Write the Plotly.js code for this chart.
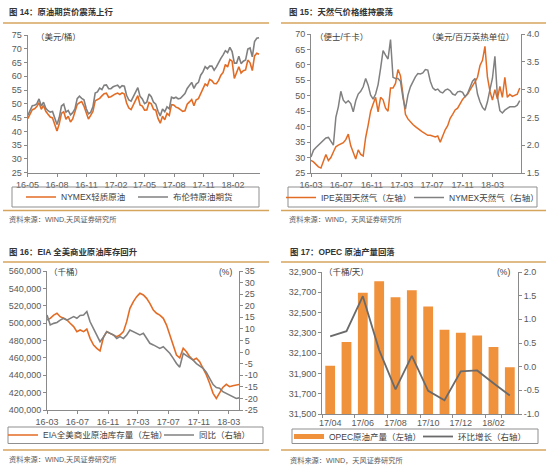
<!DOCTYPE html>
<html><head><meta charset="utf-8">
<script src="https://cdn.plot.ly/plotly-3.0.1.min.js"></script>
<style>html,body{margin:0;padding:0;background:#fff;}#chart{width:550px;height:469px;}</style>
</head><body><div id="chart"></div>
<script>
// ---------- Panel 1: crude futures (weekly) ----------
const oilStart = '2016-05-02';
const wtiPrice = [
 44.6,46.2,47.9,48.2,49.0, 50.4,48.0,49.4,47.3, 46.2,45.2,44.9,42.8, 40.1,42.8,46.6,47.1,44.4,
 45.5,43.4,44.5,46.8, 49.8,50.4,50.8,49.2,46.7, 44.5,45.8,47.2,51.1, 51.5,52.0,52.9,53.7,
 53.9,52.4,52.6,53.2,53.6, 53.9,53.4,54.0,53.6, 50.3,48.5,47.9,49.5, 51.5,53.0,49.6,49.2,
 47.7,47.8,50.5,50.0,48.0, 47.7,44.7,43.0,45.5, 44.2,46.5,45.8,49.7,49.6, 48.8,48.5,47.9,47.3,
 47.5,49.9,50.7,51.6, 49.3,51.5,51.9,53.9,55.6, 57.2,56.6,58.9,58.4, 57.4,57.3,58.5,60.4,
 61.4,64.3,63.4,66.1,65.5, 59.2,61.7,63.5,61.2, 62.0,62.3,65.9,64.9, 62.1,67.4,68.4,68.0];
const brentPrice = [
 45.8,47.5,49.3,49.5,50.0, 51.8,49.2,50.6,48.4, 47.5,47.0,47.2,45.0, 42.5,45.0,49.2,49.9,47.0,
 47.6,46.0,46.8,48.2, 51.9,52.8,52.0,51.5,48.3, 46.4,46.9,48.9,53.9, 54.3,55.7,55.2,56.8,
 56.9,55.5,55.5,56.2,56.6, 56.8,55.8,56.6,56.4, 53.1,51.4,51.0,52.6, 54.5,55.9,52.7,51.8,
 50.1,50.6,53.6,52.6,50.6, 49.9,47.3,45.6,48.1, 47.1,48.9,48.2,52.4,52.0, 52.4,51.8,52.0,52.8,
 53.7,55.6,56.8,57.8, 55.6,57.2,57.8,60.4,61.6, 63.5,62.7,63.7,63.7, 62.2,63.4,65.2,66.5,
 67.8,69.3,68.6,70.5,69.0, 64.8,64.8,67.3,64.6, 65.5,65.9,69.9,70.3, 67.1,72.6,73.8,74.0];
const p1TickVals = ['2016-05-01','2016-08-01','2016-11-01','2017-02-01','2017-05-01','2017-08-01','2017-11-01','2018-02-01'];
const p1TickText = ['16-05','16-08','16-11','17-02','17-05','17-08','17-11','18-02'];

// ---------- Panel 2: natural gas (10-day steps) ----------
const gasStart = '2016-03-01';
const ipeGas = [
 29.1,28.6,27.8,27.0,26.6,29.0,31.0,29.0,30.0,31.8,
 33.5,34.0,34.3,34.8,35.8,37.6,33.8,31.8,29.5,32.5,
 31.0,30.5,36.5,40.5,45.0,47.3,49.5,44.8,49.5,48.7,
 46.0,45.0,52.5,52.5,54.0,58.5,56.5,50.5,44.0,42.5,
 41.5,40.7,40.0,39.5,38.8,38.2,37.8,37.2,37.2,37.0,
 36.7,37.0,35.0,37.0,39.0,40.3,42.7,44.0,45.4,46.0,
 47.5,48.8,49.8,50.5,51.9,53.0,54.5,56.0,59.8,61.5,
 66.0,56.0,51.5,48.6,52.0,49.0,53.0,49.5,56.0,49.5,
 50.5,49.8,50.2,50.5,52.5];
const nymexGas = [
 1.79,1.91,1.96,2.00,2.05,2.09,2.13,2.14,2.06,2.00,
 2.50,2.69,2.97,2.81,2.76,2.80,2.75,2.60,2.80,2.92,
 2.97,3.05,3.20,3.08,2.90,2.83,2.92,3.09,3.38,3.70,
 3.62,3.55,3.90,3.22,3.20,3.20,3.15,2.85,2.65,2.90,
 3.05,3.15,3.23,3.29,3.28,3.30,3.36,3.35,3.15,3.03,
 2.99,3.01,2.96,2.94,2.99,3.01,2.98,2.92,2.90,2.96,
 2.97,2.95,2.87,2.93,3.05,3.15,3.20,2.92,2.78,2.68,
 2.63,2.78,3.00,3.20,3.60,2.88,2.62,2.58,2.63,2.66,
 2.69,2.69,2.69,2.72,2.80];
const p2TickVals = ['2016-03-01','2016-07-01','2016-11-01','2017-03-01','2017-07-01','2017-11-01','2018-03-01'];
const p2TickText = ['16-03','16-07','16-11','17-03','17-07','17-11','18-03'];

// ---------- Panel 3: EIA inventory ----------
const eiaStart = '2016-03-01';
const eiaStock = [
 503600,505500,509300,511300,507400,505500,503600,499800,496000,490200,
 492100,490200,493200,482500,474800,471000,468000,484000,490200,488200,
 486300,484400,486300,490200,501700,517000,524700,530500,534300,532400,
 528500,522800,515100,511300,509300,505500,497800,486300,474800,463300,
 460000,471000,467100,461400,457500,459500,455600,448000,440300,430700,
 419200,413400,420000,426000,429500,426800,428000,428800,429500];
const eiaYoY = [
 16.0,11.7,12.4,12.8,13.8,14.6,13.8,14.6,15.3,14.6,
 15.8,16.0,17.5,13.1,10.3,7.4,4.5,6.5,8.8,8.1,
 7.4,5.9,6.7,5.9,7.4,9.5,8.8,8.1,7.4,8.1,
 5.9,3.8,3.1,2.3,1.6,2.3,0.9,-0.5,-2.7,-4.9,
 -6.5,-0.5,-1.5,-2.5,-3.5,-5.0,-6.0,-7.0,-8.8,-11.5,
 -14.0,-15.3,-15.6,-17.1,-17.8,-18.5,-19.2,-20.0,-19.7];
const p3TickVals = p2TickVals;
const p3TickText = p2TickText;
const yoyTicks = [35,30,25,20,15,10,5,0,-5,-10,-15,-20,-25];
const yoyTickText = ['35','30','25','20','15','10','5','0','-5','-10','-15','-20','-25'];

// ---------- Panel 4: OPEC output ----------
const opecMonths = ['17/04','17/05','17/06','17/07','17/08','17/09','17/10','17/11','17/12','18/01','18/02','18/03'];
const opecOutput = [31975,32210,32695,32810,32650,32720,32560,32330,32300,32275,32160,31960];
const opecMoM = [0.64,0.75,1.49,0.35,-0.48,0.23,-0.51,-0.71,-0.10,-0.08,-0.35,-0.61];
const p4TickVals = ['17/04','17/06','17/08','17/10','17/12','18/02'];
const momTicks = [2.0,1.5,1.0,0.5,0.0,-0.5,-1.0];
const momTickText = ['2.0','1.5','1.0','0.5','0.0','-0.5','-1.0'];

// ---------- helpers ----------
function seqDates(start, n, stepDays){
  const t0 = Date.parse(start + 'T00:00:00Z');
  return Array.from({length:n}, (_, i) => new Date(t0 + Math.round(i*stepDays)*86400000).toISOString().slice(0,10));
}
const oilDates = seqDates(oilStart, wtiPrice.length, 7);
const gasDates = seqDates(gasStart, ipeGas.length, 10);
const eiaDates = seqDates(eiaStart, eiaStock.length, 13.33);

const W = 550, H = 469;
const PX = x => x / W, PY = y => 1 - y / H;
const FONT = '"Liberation Sans", Arial, "Noto Sans CJK SC", sans-serif';
const ORANGE = '#E36C25', GRAY = '#808080', BAR = '#F0913C', GRAY2 = '#6a6a6a';
const GOLD = '#D6A55C';

const axBase = {showgrid:false, zeroline:false, showline:true, linecolor:'#8a8a8a', linewidth:1,
  ticks:'outside', ticklen:3, tickcolor:'#8a8a8a', fixedrange:true, tickangle:0,
  tickfont:{size:9, color:'#595959', family:FONT}};

const traces = [
  {type:'scatter', mode:'lines', x:oilDates, y:wtiPrice, xaxis:'x', yaxis:'y', name:'NYMEX轻质原油',
   line:{color:ORANGE, width:1.6}, legend:'legend'},
  {type:'scatter', mode:'lines', x:oilDates, y:brentPrice, xaxis:'x', yaxis:'y', name:'布伦特原油期货',
   line:{color:GRAY, width:1.6}, legend:'legend'},

  {type:'scatter', mode:'lines', x:gasDates, y:ipeGas, xaxis:'x2', yaxis:'y2', name:'IPE英国天然气（左轴）',
   line:{color:ORANGE, width:1.5}, legend:'legend2'},
  {type:'scatter', mode:'lines', x:gasDates, y:nymexGas, xaxis:'x2', yaxis:'y3', name:'NYMEX天然气（右轴）',
   line:{color:GRAY, width:1.5}, legend:'legend2'},

  {type:'scatter', mode:'lines', x:eiaDates, y:eiaStock, xaxis:'x3', yaxis:'y4', name:'EIA全美商业原油库存量（左轴）',
   line:{color:ORANGE, width:1.6}, legend:'legend3'},
  {type:'scatter', mode:'lines', x:eiaDates, y:eiaYoY, xaxis:'x3', yaxis:'y5', name:'同比（右轴）',
   line:{color:GRAY, width:1.6}, legend:'legend3'},

  {type:'bar', x:opecMonths, y:opecOutput, xaxis:'x4', yaxis:'y6', name:'OPEC原油产量（左轴）',
   marker:{color:BAR}, showlegend:false},
  {type:'scatter', mode:'lines', x:[null], y:[null], xaxis:'x4', yaxis:'y6', name:'OPEC原油产量（左轴）',
   line:{color:BAR, width:5}, legend:'legend4'},
  {type:'scatter', mode:'lines', x:opecMonths, y:opecMoM, xaxis:'x4', yaxis:'y7', name:'环比增长（右轴）',
   line:{color:GRAY2, width:1.8}, legend:'legend4'}
];

function legendAt(x0, cy, ew){
  return {orientation:'h', x:PX(x0), y:PY(cy), xanchor:'left', yanchor:'middle',
    bgcolor:'rgba(0,0,0,0)', borderwidth:0, itemwidth:30, entrywidth:ew, entrywidthmode:'pixels',
    font:{size:8.5, color:'#404040', family:FONT}};
}
function hline(x0,x1,y,color,w){return {type:'line', xref:'paper', yref:'paper', x0:PX(x0), x1:PX(x1), y0:PY(y), y1:PY(y), line:{color:color, width:w}};}
function box(x0,x1,y0,y1){return {type:'rect', xref:'paper', yref:'paper', x0:PX(x0), x1:PX(x1), y0:PY(y1), y1:PY(y0), line:{color:'#8f8f8f', width:1}, fillcolor:'rgba(0,0,0,0)'};}
function txt(s,x,y,anchor,size,color){return {text:s, xref:'paper', yref:'paper', x:PX(x), y:PY(y), xanchor:anchor, yanchor:'middle', showarrow:false, font:{size:size, color:color, family:FONT}};}

const layout = {
  width:W, height:H, margin:{l:0,r:0,t:0,b:0}, paper_bgcolor:'#fff', plot_bgcolor:'#fff',
  showlegend:true, hovermode:false, bargap:0.4, font:{family:FONT},
  // panel 1
  xaxis:{...axBase, domain:[PX(27.5),PX(260)], anchor:'y', type:'date', range:['2016-05-01','2018-04-26'],
    tickvals:p1TickVals, ticktext:p1TickText},
  yaxis:{...axBase, domain:[PY(172.7),PY(35)], anchor:'x', range:[25,75], tick0:25, dtick:5},
  // panel 2
  xaxis2:{...axBase, domain:[PX(311),PX(521)], anchor:'y2', type:'date', range:['2016-03-01','2018-06-24'],
    tickvals:p2TickVals, ticktext:p2TickText},
  yaxis2:{...axBase, domain:[PY(173),PY(34)], anchor:'x2', range:[25,70], tick0:25, dtick:5},
  yaxis3:{...axBase, overlaying:'y2', side:'right', anchor:'x2', range:[1.5,4.0], tick0:1.5, dtick:0.5, tickformat:'.1f'},
  // panel 3
  xaxis3:{...axBase, domain:[PX(47),PX(239)], anchor:'y4', type:'date', range:['2016-03-01','2018-04-11'],
    tickvals:p3TickVals, ticktext:p3TickText},
  yaxis4:{...axBase, domain:[PY(410),PY(271)], anchor:'x3', range:[400000,560000], dtick:20000, tickformat:',d'},
  yaxis5:{...axBase, overlaying:'y4', side:'right', anchor:'x3', range:[-25,35], tickvals:yoyTicks, ticktext:yoyTickText},
  // panel 4
  xaxis4:{...axBase, domain:[PX(322),PX(518)], anchor:'y6', type:'category', tickvals:p4TickVals, tickson:'boundaries'},
  yaxis6:{...axBase, domain:[PY(414),PY(272)], anchor:'x4', range:[31500,32900], tick0:31500, dtick:200, tickformat:',d'},
  yaxis7:{...axBase, overlaying:'y6', side:'right', anchor:'x4', range:[-1,2], tickvals:momTicks, ticktext:momTickText},

  legend: legendAt(21,197,67),
  legend2: legendAt(281,197.5,83),
  legend3: legendAt(3,435,111),
  legend4: legendAt(289,436.5,84),

  shapes:[
    hline(3,269,23,GOLD,1.5), hline(281,546,23,GOLD,1.5),
    hline(3,269,210.5,GOLD,1.5), hline(281,546,210.5,GOLD,1.5),
    hline(3,269,262,GOLD,1.5), hline(281,546,262,GOLD,1.5),
    hline(3,269,450,GOLD,1.5), hline(281,546,450,GOLD,1.5),
    box(12,259,187,207), box(288,537,187,207), box(8,263,427,443.5), box(292,538,429,443.5)
  ],
  annotations:[
    txt('<b>图 14：原油期货价震荡上行</b>',7,12,'left',8.4,'#333'),
    txt('<b>图 15：天然气价格维持震荡</b>',287,12,'left',8.4,'#333'),
    txt('<b>图 16：EIA 全美商业原油库存回升</b>',7,252,'left',8.4,'#333'),
    txt('<b>图 17：OPEC 原油产量回落</b>',288,252,'left',8.4,'#333'),
    txt('资料来源：WIND,天风证券研究所',7,219,'left',7.2,'#595959'),
    txt('资料来源：WIND，天风证券研究所',287,219,'left',7.2,'#595959'),
    txt('资料来源：WIND,天风证券研究所',7,459.5,'left',7.2,'#595959'),
    txt('资料来源：WIND，天风证券研究所',288,460,'left',7.2,'#595959'),
    txt('（美元/桶）',34,37,'left',8.5,'#404040'),
    txt('（便士/千卡）',313,37,'left',8.5,'#404040'),
    txt('（美元/百万英热单位）',516,37,'right',8.5,'#404040'),
    txt('（千桶）',47,272,'left',8.5,'#404040'),
    txt('(%)',234,272,'right',8.5,'#404040'),
    txt('（千桶/天）',322,272,'left',8.5,'#404040'),
    txt('(%)',512,272,'right',8.5,'#404040')
  ]
};

Plotly.newPlot('chart', traces, layout, {staticPlot:true, displayModeBar:false});
</script></body></html>
